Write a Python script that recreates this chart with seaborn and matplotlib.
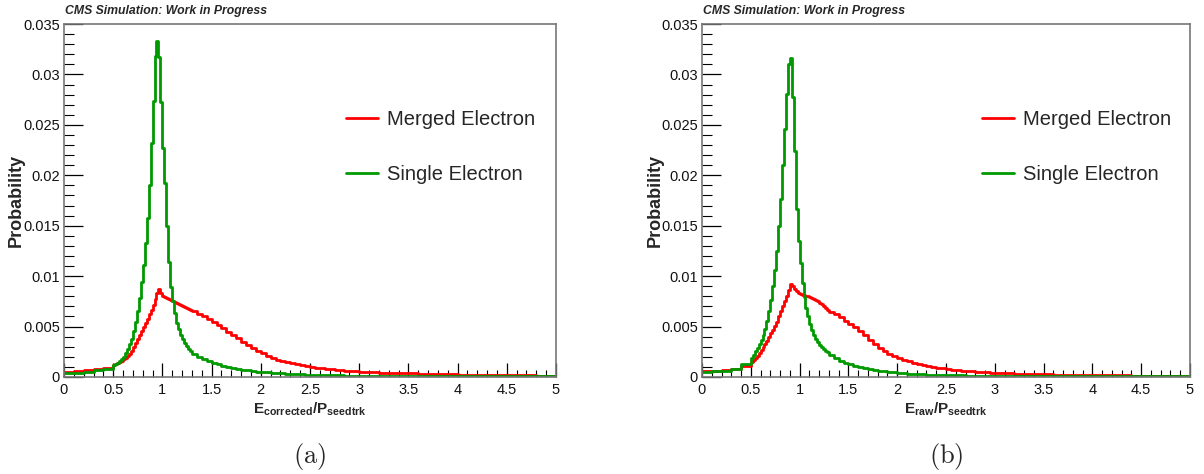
import numpy as np
import pandas as pd
import matplotlib
matplotlib.use("Agg")
import matplotlib.pyplot as plt
import seaborn as sns
from matplotlib.ticker import MultipleLocator, FuncFormatter
from matplotlib.lines import Line2D

# ---------------- data (bin layout + per-bin probabilities) -------------
bin_edges = np.concatenate([
    np.linspace(0.0, 0.5, 6)[:-1],    # coarse low tail
    np.linspace(0.5, 1.3, 41)[:-1],   # peak region
    np.linspace(1.3, 3.0, 35)[:-1],   # falling tail
    np.linspace(3.0, 5.0, 11),        # far tail
]).round(4).tolist()

series_names = ["Merged Electron", "Single Electron"]

# panel (a): E_corrected / P_seedtrk
merged_a = [
    0.00053, 0.0006, 0.00068, 0.00077, 0.0009,
    0.00122, 0.0013, 0.0014, 0.0015, 0.0016, 0.00175, 0.0019, 0.0021, 0.0023, 0.0026,
    0.0030, 0.0034, 0.0038, 0.0042, 0.0046, 0.0050, 0.0054, 0.0058, 0.0062, 0.0066,
    0.0071, 0.0077, 0.0083, 0.0087, 0.0083, 0.0080, 0.0079, 0.0078, 0.0077, 0.0076,
    0.0075, 0.0074, 0.0073, 0.0072, 0.0071, 0.0070, 0.0069, 0.0068, 0.0067, 0.0066,
    0.0065, 0.0062, 0.0060, 0.0058, 0.0055, 0.0052, 0.0049, 0.0045, 0.0042, 0.0039,
    0.0035, 0.0032, 0.0029, 0.0026, 0.0024, 0.0021, 0.0019, 0.0017, 0.0016, 0.0015,
    0.0014, 0.0013, 0.00117, 0.00108, 0.0010, 0.00092, 0.00086, 0.0008, 0.00076, 0.00072,
    0.00068, 0.00064, 0.00061, 0.00058,
    0.0005, 0.00042, 0.00035, 0.0003, 0.00026, 0.00022, 0.0002, 0.00017, 0.00015, 0.00013,
]
single_a = [
    0.00035, 0.0004, 0.0005, 0.00065, 0.00082,
    0.00115, 0.00125, 0.0014, 0.00155, 0.0018, 0.0020, 0.0024, 0.0028, 0.0033, 0.0038,
    0.0046, 0.0055, 0.0065, 0.0078, 0.0094, 0.0111, 0.0133, 0.0158, 0.0190, 0.0232,
    0.0274, 0.0318, 0.0333, 0.0317, 0.0273, 0.0227, 0.0192, 0.0150, 0.0114, 0.0089,
    0.0075, 0.0063, 0.0054, 0.0048, 0.0042, 0.0038, 0.0034, 0.0031, 0.0028, 0.0026,
    0.0023, 0.0020, 0.0018, 0.00158, 0.0014, 0.00125, 0.00112, 0.0010, 0.00092, 0.00083,
    0.00074, 0.00066, 0.0006, 0.00054, 0.0005, 0.00045, 0.00041, 0.00038, 0.00035, 0.00032,
    0.0003, 0.00027, 0.00025, 0.00024, 0.00022, 0.0002, 0.00019, 0.00018, 0.00017, 0.00016,
    0.00015, 0.00014, 0.00013, 0.00012,
    0.00011, 0.0001, 0.00009, 0.00008, 0.00007, 0.00007, 0.00006, 0.00006, 0.00005, 0.00005,
]

# panel (b): E_raw / P_seedtrk
merged_b = [
    0.00055, 0.00058, 0.00065, 0.00078, 0.0011,
    0.0015, 0.0017, 0.0019, 0.0021, 0.0024, 0.0027, 0.0030, 0.0033, 0.0036, 0.0040,
    0.0044, 0.0047, 0.0051, 0.0055, 0.0060, 0.0065, 0.0070, 0.0075, 0.0080, 0.0086,
    0.0092, 0.0090, 0.0087, 0.0085, 0.0083, 0.0082, 0.0081, 0.0081, 0.0080, 0.0080,
    0.0079, 0.0078, 0.0077, 0.0076, 0.0075, 0.0073, 0.0072, 0.0070, 0.0068, 0.0066,
    0.0064, 0.0062, 0.0059, 0.0056, 0.0053, 0.0050, 0.0046, 0.0042, 0.0037, 0.0033,
    0.0029, 0.0026, 0.0023, 0.0021, 0.0019, 0.0017, 0.00155, 0.0014, 0.0013, 0.0012,
    0.0011, 0.0010, 0.00094, 0.00087, 0.0008, 0.00074, 0.00069, 0.00064, 0.0006, 0.00056,
    0.00052, 0.00048, 0.00045, 0.00042,
    0.00038, 0.00032, 0.00027, 0.00023, 0.0002, 0.00017, 0.00015, 0.00013, 0.00012, 0.0001,
]
single_b = [
    0.0005, 0.00055, 0.0006, 0.0008, 0.0013,
    0.0019, 0.0022, 0.0026, 0.0029, 0.0033, 0.0037, 0.0042, 0.0048, 0.0056, 0.0065,
    0.0076, 0.0090, 0.0106, 0.0125, 0.0150, 0.0176, 0.0210, 0.0246, 0.0281, 0.0310,
    0.0316, 0.0278, 0.0224, 0.0167, 0.0135, 0.0113, 0.0093, 0.0079, 0.0068, 0.0060,
    0.0053, 0.0047, 0.0042, 0.0038, 0.0035, 0.0032, 0.0030, 0.0028, 0.0026, 0.0025,
    0.0022, 0.0019, 0.0016, 0.0014, 0.00125, 0.0011, 0.00095, 0.00085, 0.00075, 0.00068,
    0.0006, 0.00055, 0.0005, 0.00045, 0.0004, 0.00037, 0.00034, 0.00031, 0.00028, 0.00026,
    0.00024, 0.00022, 0.0002, 0.00019, 0.00018, 0.00017, 0.00016, 0.00015, 0.00014, 0.00013,
    0.00012, 0.00012, 0.00011, 0.00011,
    0.0001, 0.00009, 0.00008, 0.00007, 0.00007, 0.00006, 0.00006, 0.00005, 0.00005, 0.00005,
]

x_labels = [r"$\mathbf{E_{corrected}/P_{seedtrk}}$", r"$\mathbf{E_{raw}/P_{seedtrk}}$"]
panel_tags = ["(a)", "(b)"]
header = "CMS Simulation: Work in Progress"

# ---------------- style -------------
sns.set_style("ticks")
plt.rcParams["font.family"] = ["Liberation Sans", "DejaVu Sans"]
plt.rcParams["mathtext.fontset"] = "custom"
plt.rcParams["mathtext.rm"] = "Liberation Sans"
plt.rcParams["mathtext.bf"] = "Liberation Sans:bold"
plt.rcParams["mathtext.it"] = "Liberation Sans:italic"

RED = "#ff0000"
GREEN = "#009900"
W, H = 1204, 474

fig = plt.figure(figsize=(W / 100, H / 100), dpi=100)
fig.patch.set_facecolor("white")

panels = [
    (64, 492, merged_a, single_a, 0),
    (702, 488, merged_b, single_b, 1),
]
edges_arr = np.asarray(bin_edges)
centers = ((edges_arr[:-1] + edges_arr[1:]) / 2).tolist()

for (x0, wpx, merged, single, i) in panels:
    ax = fig.add_axes([x0 / W, 1 - 377 / H, wpx / W, 353 / H])
    for vals, col in ((merged, RED), (single, GREEN)):
        df = pd.DataFrame({"x": centers, "p": vals})
        sns.histplot(data=df, x="x", weights="p", bins=bin_edges, element="step",
                     fill=False, color=col, linewidth=2.0, ax=ax)
    ax.set_xlim(0, 5)
    ax.set_ylim(0, 0.035)
    ax.xaxis.set_major_locator(MultipleLocator(0.5))
    ax.xaxis.set_minor_locator(MultipleLocator(0.1))
    ax.yaxis.set_major_locator(MultipleLocator(0.005))
    ax.yaxis.set_minor_locator(MultipleLocator(0.001))
    fmt = FuncFormatter(lambda v, p: "0" if abs(v) < 1e-12 else f"{v:g}")
    ax.xaxis.set_major_formatter(fmt)
    ax.yaxis.set_major_formatter(fmt)
    ax.tick_params(axis="both", which="both", direction="in", top=False, right=False,
                   color="black", labelsize=10.5, labelcolor="#111111")
    ax.tick_params(axis="x", which="major", length=10, width=0.9, pad=4)
    ax.tick_params(axis="x", which="minor", length=5, width=0.8)
    ax.tick_params(axis="y", which="major", length=14, width=0.9, pad=3)
    ax.tick_params(axis="y", which="minor", length=7, width=0.8)
    for s in ax.spines.values():
        s.set_visible(True)
        s.set_color("#777777")
        s.set_linewidth(1.2)
    ax.grid(False)

    ax.set_ylabel("Probability", fontweight="bold", fontsize=13)
    ax.yaxis.set_label_coords(-0.079, 0.5)
    ax.set_xlabel(x_labels[i], fontsize=11)
    ax.xaxis.set_label_coords(0.5, -0.068)
    ax.xaxis.label.set_va("top")

    handles = [Line2D([], [], color=RED, lw=2.0), Line2D([], [], color=GREEN, lw=2.0)]
    ax.legend(handles, series_names, loc="upper left", bbox_to_anchor=(0.573, 0.756),
              frameon=False, fontsize=14.5, handlelength=1.6, handletextpad=0.45,
              labelspacing=1.8, borderpad=0, borderaxespad=0)

    fig.text((x0 + 1) / W, 1 - 11 / H, header, fontweight="bold", style="italic",
             fontsize=8.8, va="center", ha="left")
    fig.text((x0 + wpx / 2) / W, 1 - 457 / H, r"$\mathrm{" + panel_tags[i] + "}$",
             math_fontfamily="cm", fontsize=19, ha="center", va="center")

fig.savefig("out.png", dpi=100, facecolor="white")
